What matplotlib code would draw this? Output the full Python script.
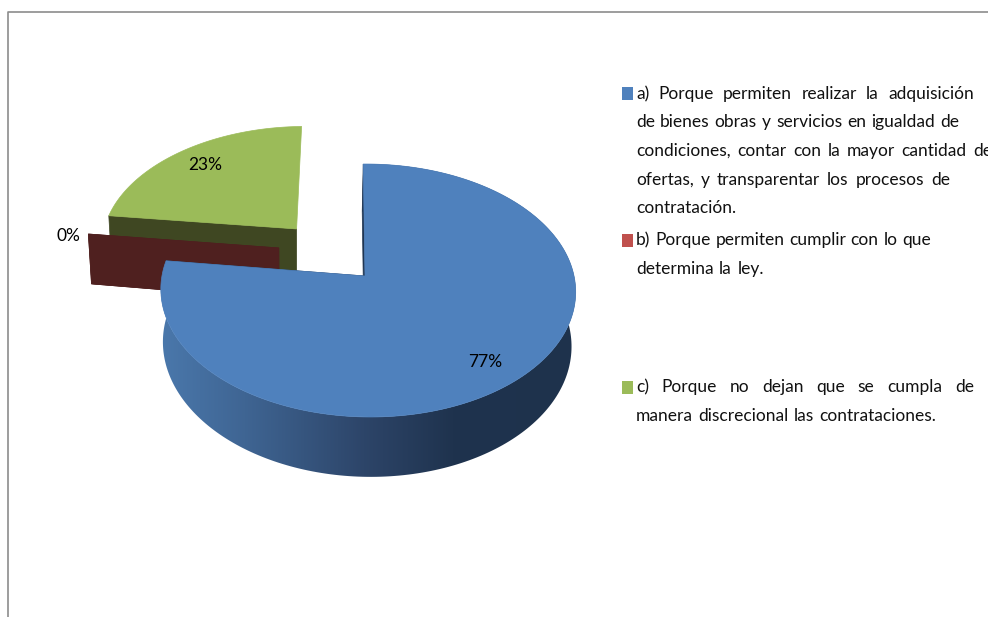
import numpy as np
import matplotlib
matplotlib.use('Agg')
import matplotlib.pyplot as plt
from matplotlib.colors import LinearSegmentedColormap
from matplotlib.patches import Polygon, Rectangle

plt.rcParams['font.family'] = ['Lato', 'DejaVu Sans']

# slices go clockwise from 12 o'clock
values = [77, 0, 23]
face_colors = ['#4f81bd', '#c0504d', '#9bbb59']
wall_colors = ['#1f3552', '#4f201f', '#3f4722']
slice_offsets = [(0.0, 0.0), (-0.43, 0.232), (-0.345, 0.396)]
label_pos = [(485, 362), (68, 236), (205, 165)]

# text, left x, right x, centre y
legend_lines = [
    ('a) Porque permiten realizar la adquisición', 636, 974, 94),
    ('de bienes obras y servicios en igualdad de', 636, 959, 122),
    ('condiciones, contar con la mayor cantidad de', 636, 992, 151),
    ('ofertas, y transparentar los procesos de', 636, 950, 180),
    ('contratación.', 636, 751, 208),
    ('b) Porque permiten cumplir con lo que', 636, 931, 240),
    ('determina la ley.', 636, 764, 269),
    ('c) Porque no dejan que se cumpla de', 636, 974, 387),
    ('manera discrecional las contrataciones.', 636, 936, 416),
]
swatch_y = [87, 234, 381]

CX, CY = 365, 276
RX, RY = 206, 124.8
KX, KY = -0.0145, 0.1147
DEPTH = 53


def project(X, Y, depth=0):
    # perspective view of the unit disc, depth=1 is the bottom of the pie
    w = 1 + KY * Y + KX * X
    x = CX - depth + (RX * (1 - 0.015 * depth) * X - 2 * Y) / w
    y = CY - (RY * Y - DEPTH * depth) / w
    return x, y


fig = plt.figure(figsize=(9.88, 6.17), dpi=100)
ax = fig.add_axes([0, 0, 1, 1])

# chart frame, runs off the right and bottom
ax.plot([8, 8, 988], [617, 12, 12], color='#8c8c8c', lw=1.2)

rim_cmap = LinearSegmentedColormap.from_list('rim', [
    (0.0, '#4b79ad'), (0.21, '#3f6593'), (0.49, '#2d4569'),
    (0.70, '#1f334e'), (1.0, '#1e324c')])

angles = np.cumsum([0] + values) * 3.6
draw_order = [2, 1, 0]
for i in draw_order:
    start, end = np.radians(angles[i]), np.radians(angles[i + 1])
    ox, oy = slice_offsets[i]
    t = np.linspace(start, end, 240)
    arc_x = ox + np.sin(t)
    arc_y = oy + np.cos(t)

    # outer rim with its left to right shading
    if values[i] > 50:
        tx, ty = project(arc_x, arc_y)
        bx, by = project(arc_x, arc_y, 1)
        rim = Polygon(np.c_[np.r_[tx, bx[::-1]], np.r_[ty, by[::-1]]], closed=True,
                      transform=ax.transData, fc='none', ec='none')
        ax.add_patch(rim)
        shade = ax.imshow(np.linspace(0, 1, 256)[None, :], cmap=rim_cmap, aspect='auto',
                          extent=(155, 580, 480, 160), zorder=ax.get_zorder() + 1)
        shade.set_clip_path(rim)

    # cut walls facing the viewer, the green slice only shows its lower one
    walls = (start,) if i == 2 else (start, end)
    for a in walls:
        px = np.array([ox, ox + np.sin(a)])
        py = np.array([oy, oy + np.cos(a)])
        x0, y0 = project(px, py)
        x1, y1 = project(px, py, 1)
        ax.fill([x0[0], x0[1], x1[1], x1[0]], [y0[0], y0[1], y1[1], y1[0]],
                color=wall_colors[i], lw=0.5, zorder=2 + draw_order.index(i) * 2)

    # top face
    if values[i] > 0:
        fx, fy = project(np.r_[ox, arc_x], np.r_[oy, arc_y])
        ax.fill(fx, fy, color=face_colors[i], lw=0.5, zorder=3 + draw_order.index(i) * 2)

for v, (lx, ly) in zip(values, label_pos):
    ax.text(lx, ly, f'{v}%', ha='center', va='center', fontsize=12.5, color='black', zorder=10)

# legend: swatches and justified lines
for c, y in zip(face_colors, swatch_y):
    ax.add_patch(Rectangle((622, y), 11, 12.5, color=c, lw=0))

ax.set_xlim(0, 988)
ax.set_ylim(617, 0)
ax.axis('off')

renderer = fig.canvas.get_renderer()
for line, x0, x1, y in legend_lines:
    words = [ax.text(x0, y, w, ha='left', va='center', fontsize=12.5, color='#111111')
             for w in line.split()]
    widths = [w.get_window_extent(renderer).width for w in words]
    gap = (x1 - x0 - sum(widths)) / max(len(words) - 1, 1)
    x = x0
    for w, width in zip(words, widths):
        w.set_x(x)
        x += width + gap

fig.savefig('out.png', dpi=100)
